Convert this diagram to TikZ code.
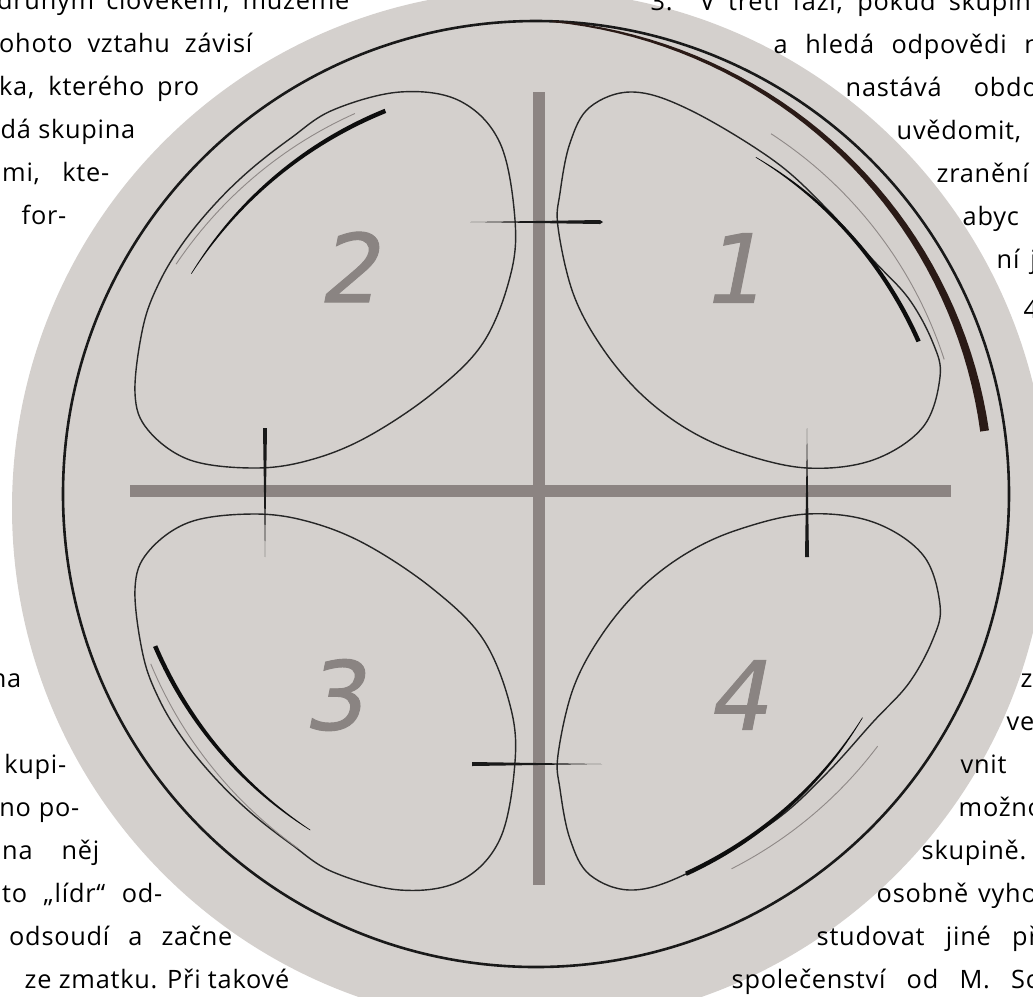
\documentclass[tikz,border=0pt]{standalone}
\usepackage{fontspec}
\setmainfont{Open Sans}
\newfontfamily\bodyfam{Open Sans}[LetterSpace=3]
\newfontfamily\digitfam{DejaVu Sans}[FakeSlant=0.2,FakeBold=1]
\newcommand{\bodyfont}{\bodyfam\fontsize{7.2}{8}\selectfont}
\newcommand{\digitfont}{\digitfam\fontsize{27}{27}\selectfont}
\newcommand{\jl}[2]{\makebox[#1cm][s]{#2}}

\definecolor{discgrey}{HTML}{D4D0CD}
\definecolor{crossgrey}{HTML}{8C8482}
\definecolor{numgrey}{HTML}{8A8482}
\definecolor{heavybrown}{HTML}{2A1A16}
\definecolor{tracegrey}{HTML}{8F8987}

\begin{document}
\begin{tikzpicture}[x=0.01cm,y=0.01cm]

\def\rpetal{\draw[petal] plot[smooth cycle,tension=0.6] coordinates {(94,399) (151,381) (234,331) (287,283) (334,231) (370,192) (394,148) (401,114) (384,64) (334,31) (268,23) (201,38) (148,62) (101,98) (62,145) (34,198) (19,264) (21,298) (31,348) (51,384)};}
\def\lpetal{\draw[petal] plot[smooth cycle,tension=0.6] coordinates {(-139,399) (-79,390) (-39,348) (-24,271) (-29,214) (-56,148) (-106,98) (-172,54) (-229,31) (-284,23) (-349,31) (-391,61) (-404,98) (-396,164) (-380,208) (-356,248) (-324,287) (-289,321) (-248,353) (-206,381)};}
\def\band#1#2#3#4{\fill[black!95] plot[domain=0:1,samples=40] ({#1+(#2-#1)*\x}:{#3+(#4-#3)*\x+0.3+1.9*(1-\x*\x)}) -- plot[domain=1:0,samples=40] ({#1+(#2-#1)*\x}:{#3+(#4-#3)*\x-0.3-1.9*(1-\x*\x)}) -- cycle;}

\tikzstyle{bar} = [line width=0.12cm,crossgrey];
\tikzstyle{petal} = [line width=0.014cm,black!85];
\tikzstyle{trace} = [line width=0.009cm,tracegrey];
\tikzstyle{ltext} = [anchor=base east,inner sep=0pt,font=\bodyfont];
\tikzstyle{rtext} = [anchor=base west,inner sep=0pt,font=\bodyfont];
\tikzstyle{digit} = [inner sep=0pt,font=\digitfont,text=numgrey];

\useasboundingbox (0,0) rectangle (1033,-996);
\clip (0,0) rectangle (1033,-996);

\fill [discgrey] (530,-508) circle [radius=518];

\draw [bar] (130,-491) -- (951,-491);
\draw [bar] (539,-92) -- (539,-885);

\begin{scope}[shift={(539,-491)}]
\rpetal
\lpetal
\end{scope}
\begin{scope}[shift={(539,-491)},yscale=-1]
\rpetal
\lpetal
\end{scope}

\draw [line width=0.026cm,black!90] (536,-494) circle [radius=473];

\begin{scope}[shift={(536,-494)}]
\fill [heavybrown] plot [domain=88:8,samples=41] (\x:{453+20*((\x-8)/80)^2+0.8+(88-\x)*0.045})
  -- plot [domain=8:88,samples=41] (\x:{453+20*((\x-8)/80)^2-0.8-(88-\x)*0.045}) -- cycle;
\end{scope}

\begin{scope}[shift={(539,-491)}]
\draw [trace] (57:426) arc [start angle=57,end angle=18,radius=426];
\draw [trace] plot [domain=116:148,samples=30] (\x:{420+(\x-116)*8/32});
\draw [trace] plot [domain=204:236,samples=30] (\x:{425+(\x-204)*6/32});
\draw [trace] (297:424) arc [start angle=297,end angle=323,radius=424];
\band{21.5}{57}{408}{398}
\band{112}{148}{410}{410}
\band{202}{236}{414}{409}
\band{291}{325}{410}{395}
\end{scope}

\fill [black!90] (470,-222) -- (600,-220) -- (603,-222) -- (600,-224) -- cycle;
\fill [black!90] (263,-428) -- (267,-428) -- (265,-557) -- cycle;
\fill [black!90] (805,-557) -- (809,-557) -- (807,-428) -- cycle;
\fill [black!90] (472,-762) -- (472,-766) -- (602,-764) -- cycle;

\node [digit] (one) at (732,-268) {1};
\node [digit] (two) at (348,-267) {2};
\node [digit] (three) at (333,-695) {3};
\node [digit] (four) at (737,-695) {4};

\node [ltext] (lt1) at (350,-9) {\jl{3.52}{druhým člověkem, můžeme}};
\node [ltext] (lt2) at (253,-52) {\jl{2.53}{ohoto vztahu závisí}};
\node [ltext] (lt3) at (200,-95) {\jl{2.00}{ka, kterého pro}};
\node [ltext] (lt4) at (136,-138) {dá skupina};
\node [ltext] (lt5) at (110,-181) {\jl{1.07}{mi, kte-}};
\node [ltext] (lt6) at (67,-224) {for-};

\node [rtext] (rt1) at (650,-10) {\jl{3.80}{3. V třetí fázi, pokud skupin}};
\node [rtext] (rt2) at (773,-53) {\jl{2.66}{a hledá odpovědi n}};
\node [rtext] (rt3) at (845,-96) {\jl{1.92}{nastává obdo}};
\node [rtext] (rt4) at (896,-139) {uvědomit,};
\node [rtext] (rt5) at (936,-182) {zranění};
\node [rtext] (rt6) at (962,-225) {abyc};
\node [rtext] (rt7) at (996,-268) {\jl{0.40}{ní j}};
\node [rtext] (rt8) at (1023,-318) {4};

\node [ltext] (lb1) at (22,-687) {na};
\node [ltext] (lb2) at (67,-773) {kupi-};
\node [ltext] (lb3) at (80,-816) {\jl{0.80}{no po-}};
\node [ltext] (lb4) at (100,-859) {\jl{0.97}{na něj}};
\node [ltext] (lb5) at (163,-902) {\jl{1.60}{to „lídr“ od-}};
\node [ltext] (lb6) at (233,-945) {\jl{2.23}{odsoudí a začne}};
\node [ltext] (lb7) at (290,-988) {ze zmatku. Při takové};

\node [rtext] (rb1) at (1020,-687) {z};
\node [rtext] (rb2) at (1006,-730) {ve};
\node [rtext] (rb3) at (960,-773) {vnit};
\node [rtext] (rb4) at (958,-816) {možno};
\node [rtext] (rb5) at (921,-859) {skupině.};
\node [rtext] (rb6) at (876,-902) {\jl{1.60}{osobně vyho}};
\node [rtext] (rb7) at (816,-945) {\jl{2.22}{studovat jiné př}};
\node [rtext] (rb8) at (731,-988) {\jl{3.06}{společenství od M. Sc}};

\end{tikzpicture}
\end{document}
